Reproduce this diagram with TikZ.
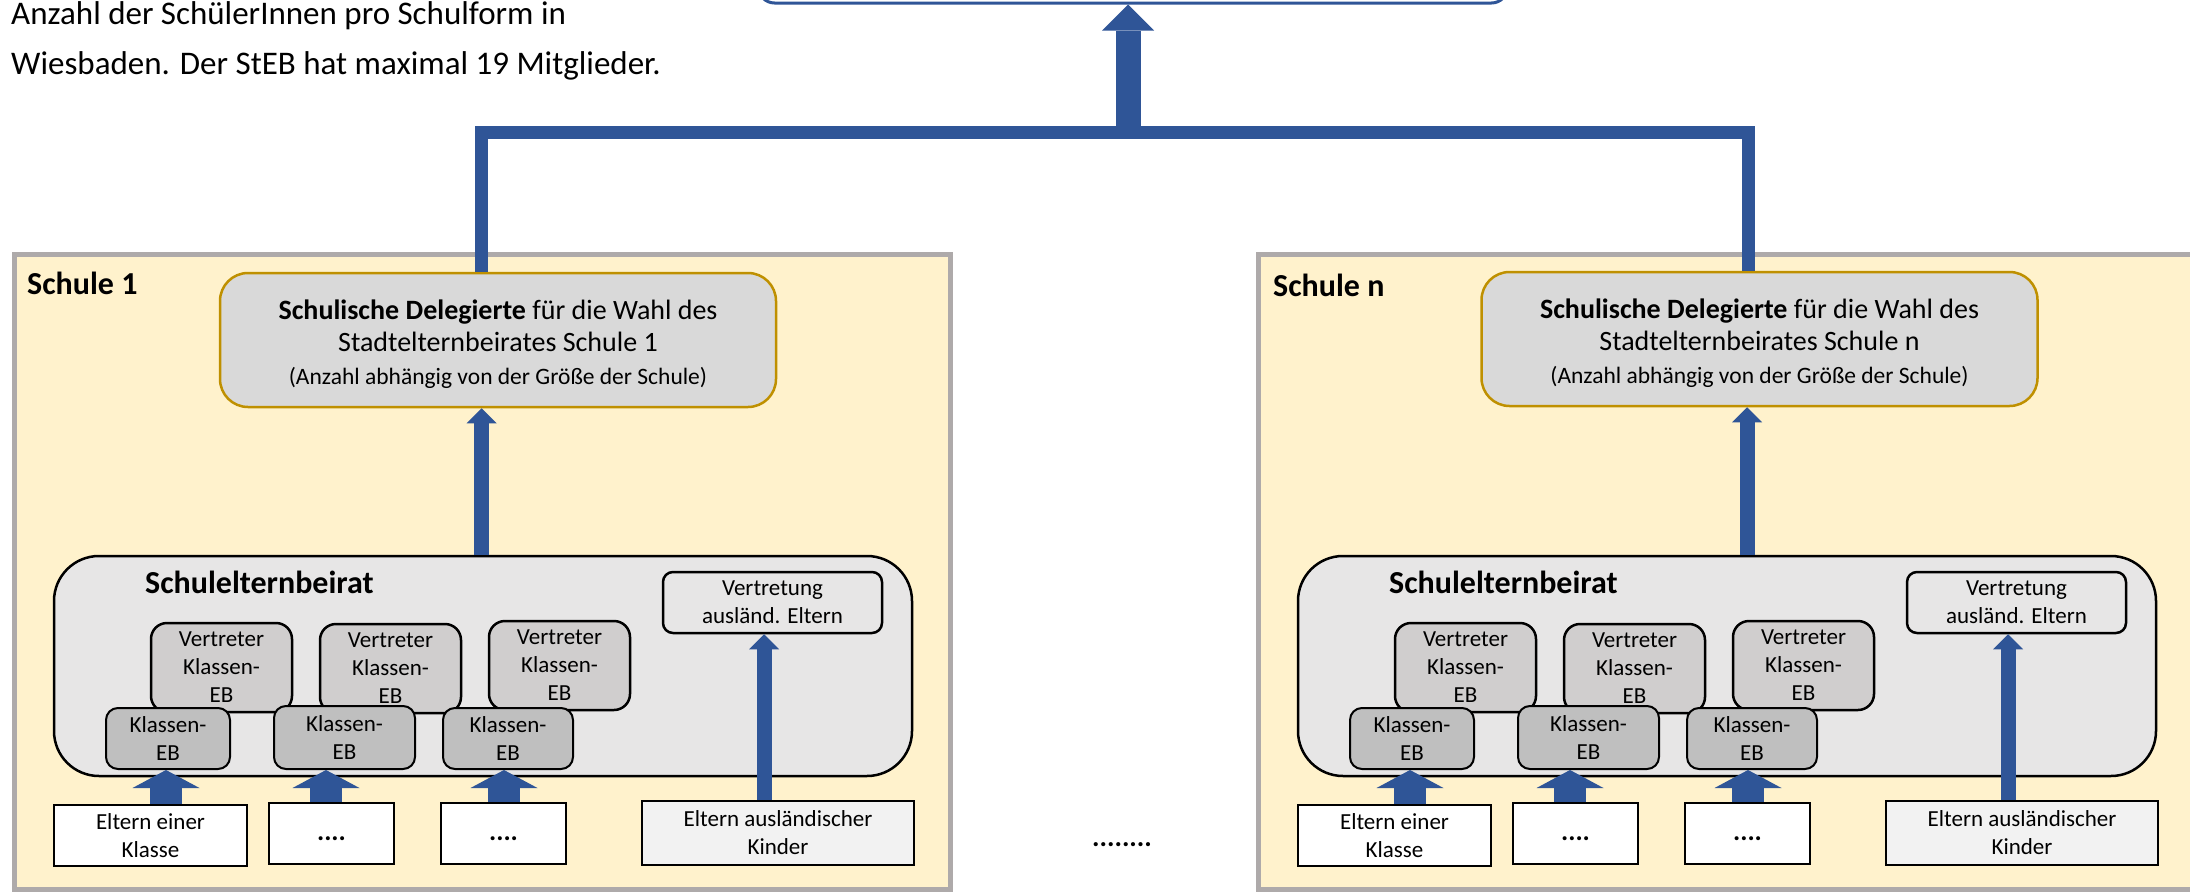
\documentclass[tikz,border=0pt]{standalone}
\usepackage{fontspec}
\setmainfont{Carlito}
\usetikzlibrary{arrows.meta}
\definecolor{cblue}{HTML}{2F5597}
\definecolor{cschoolbd}{HTML}{AEAAAA}
\definecolor{cschoolbg}{HTML}{FFF2CC}
\definecolor{cdelegbd}{HTML}{BF9000}
\definecolor{cdelegbg}{HTML}{D9D9D9}
\definecolor{csebbg}{HTML}{E7E6E6}
\definecolor{crepbg}{HTML}{D0CECE}
\definecolor{ckebbg}{HTML}{BFBFBF}
\definecolor{cforbg}{HTML}{F2F2F2}
\newcommand\fsbody{\fontsize{23}{28}\selectfont}
\newcommand\fsbig{\fontsize{32}{39}\selectfont}
\newcommand\fshead{\fontsize{33}{50}\selectfont}
\newcommand\fsdeleg{\fontsize{28}{32.5}\selectfont}
\newcommand\fssmall{\fontsize{23.5}{31}\selectfont}
\newcommand\fsdots{\fontsize{27}{33}\selectfont\bfseries}
\begin{document}
\begin{tikzpicture}[x=1pt,y=-1pt,line join=miter,
  school/.style={draw=cschoolbd,fill=cschoolbg,line width=5pt,minimum width=936pt,minimum height=635pt,inner sep=0pt},
  lab/.style={anchor=west,inner sep=0pt,font=\fsbig\bfseries},
  deleg/.style={draw=cdelegbd,fill=cdelegbg,line width=2.5pt,rounded corners=28pt,minimum width=556pt,minimum height=134pt,inner sep=0pt},
  delegtext/.style={inner sep=0pt,align=center,font=\fsdeleg},
  seb/.style={draw=black,fill=csebbg,line width=2.5pt,rounded corners=45pt,minimum width=858pt,minimum height=220pt,inner sep=0pt},
  sebtitle/.style={anchor=west,inner sep=0pt,font=\fsbig\bfseries},
  vertr/.style={draw=black,fill=csebbg,line width=2.5pt,rounded corners=10pt,minimum width=219pt,minimum height=61pt,inner sep=0pt,align=center,font=\fsbody},
  rep/.style={draw=black,fill=crepbg,line width=2.5pt,rounded corners=16pt,minimum width=141pt,minimum height=89pt,inner sep=0pt,align=center,font=\fsbody},
  keb/.style={draw=black,fill=ckebbg,line width=2pt,rounded corners=12pt,minimum height=61pt,inner sep=0pt,align=center,font=\fsbody},
  parent/.style={draw=black,fill=white,line width=2.5pt,minimum height=61pt,inner sep=0pt,align=center,font=\fsbody},
  topbox/.style={draw=cblue,fill=white,line width=3pt,rounded corners=16pt,minimum width=749pt,minimum height=60pt,inner sep=0pt},
  conn/.style={draw=cblue,line width=13pt},
  bigarrow/.style={draw=cblue,line width=25pt,-{Triangle[width=52pt,length=26pt,line width=0pt]}},
  midarrow/.style={draw=cblue,line width=15pt,-{Triangle[width=30pt,length=15pt,line width=0pt]}},
  fatarrow/.style={draw=cblue,line width=32pt,-{Triangle[width=67pt,length=18pt,line width=0pt]}}
]
\useasboundingbox (0,0) rectangle (2190,894);

% header
\node[anchor=north west,inner sep=0pt,align=left,font=\fshead] (head) at (11,1)
  {Anzahl der SchülerInnen pro Schulform in\\Wiesbaden. Der StEB hat maximal 19 Mitglieder.};
\node[topbox] (top) at (1133,-27) {};

% schools
\node[school] (sL) at (482.5,572) {};
\node[school] (sR) at (1726.5,572) {};
\node[lab] (labL) at (27,283) {Schule 1};
\node[lab] (labR) at (1273,285) {Schule n};

% delegates
\node[deleg] (dL) at (498,340) {};
\node[delegtext] (dLt) at (498,344) {\textbf{Schulische Delegierte} für die Wahl des\\Stadtelternbeirates Schule 1\\{\fssmall (Anzahl abhängig von der Größe der Schule)}};
\node[deleg] (dR) at (1759.5,339) {};
\node[delegtext] (dRt) at (1759.5,343) {\textbf{Schulische Delegierte} für die Wahl des\\Stadtelternbeirates Schule n\\{\fssmall (Anzahl abhängig von der Größe der Schule)}};

% left Schulelternbeirat
\node[seb] (seL) at (483,666) {};
\node[sebtitle] (seLt) at (145,582) {Schulelternbeirat};
\node[vertr] (vL) at (772.5,602.5) {Vertretung\\ausländ. Eltern};
\node[rep] (rAL) at (221.5,667.5) {Vertreter\\Klassen-\\EB};
\node[rep] (rBL) at (390.5,668.5) {Vertreter\\Klassen-\\EB};
\node[rep] (rCL) at (559.5,665.5) {Vertreter\\Klassen-\\EB};
\node[keb,minimum width=124pt] (kAL) at (168,738.5) {Klassen-\\EB};
\node[keb,minimum width=141pt,minimum height=63pt] (kBL) at (344.5,737.5) {Klassen-\\EB};
\node[keb,minimum width=130pt] (kCL) at (508,738.5) {Klassen-\\EB};
\node[parent,minimum width=193pt] (eAL) at (150.5,835.5) {Eltern einer\\Klasse};
\node[parent,minimum width=125pt,font=\fsdots] (eBL) at (331.5,833.5) {....\strut};
\node[parent,minimum width=125pt,font=\fsdots] (eCL) at (503.5,833.5) {....\strut};
\node[parent,fill=cforbg,minimum width=272pt,minimum height=64pt] (eDL) at (778,833) {Eltern ausländischer\\Kinder};

% right Schulelternbeirat
\node[seb] (seR) at (1727,666) {};
\node[sebtitle] (seRt) at (1389,582) {Schulelternbeirat};
\node[vertr] (vR) at (2016.5,602.5) {Vertretung\\ausländ. Eltern};
\node[rep] (rAR) at (1465.5,667.5) {Vertreter\\Klassen-\\EB};
\node[rep] (rBR) at (1634.5,668.5) {Vertreter\\Klassen-\\EB};
\node[rep] (rCR) at (1803.5,665.5) {Vertreter\\Klassen-\\EB};
\node[keb,minimum width=124pt] (kAR) at (1412,738.5) {Klassen-\\EB};
\node[keb,minimum width=141pt,minimum height=63pt] (kBR) at (1588.5,737.5) {Klassen-\\EB};
\node[keb,minimum width=130pt] (kCR) at (1752,738.5) {Klassen-\\EB};
\node[parent,minimum width=193pt] (eAR) at (1394.5,835.5) {Eltern einer\\Klasse};
\node[parent,minimum width=125pt,font=\fsdots] (eBR) at (1575.5,833.5) {....\strut};
\node[parent,minimum width=125pt,font=\fsdots] (eCR) at (1747.5,833.5) {....\strut};
\node[parent,fill=cforbg,minimum width=272pt,minimum height=64pt] (eDR) at (2022,833) {Eltern ausländischer\\Kinder};

% gap dots
\node[inner sep=0pt,font=\fontsize{28}{34}\selectfont\bfseries] (gap) at (1122,845) {........};

% arrow anchor coordinates
\coordinate (hub) at (1128,132);
\coordinate (uL) at ([xshift=-16.5pt]dL.south);
\coordinate (uR) at ([xshift=-12.5pt]dR.south);
\coordinate (a1L) at ([xshift=-2pt]kAL.south);
\coordinate (a2L) at ([xshift=-18.5pt]kBL.south);
\coordinate (a3L) at ([xshift=-4pt]kCL.south);
\coordinate (a4L) at ([xshift=-8.5pt]vL.south);
\coordinate (a1R) at ([xshift=-2pt]kAR.south);
\coordinate (a2R) at ([xshift=-18.5pt]kBR.south);
\coordinate (a3R) at ([xshift=-4pt]kCR.south);
\coordinate (a4R) at ([xshift=-8.5pt]vR.south);

% connectors
\draw[conn] ([xshift=-16.5pt]dL.north) |- (hub) -| ([xshift=-11.5pt]dR.north);
\draw[bigarrow] (hub) -- (hub |- top.south);
\draw[midarrow] (uL |- seL.north) -- (uL);
\draw[midarrow] (uR |- seR.north) -- (uR);
\draw[fatarrow] (a1L |- eAL.north) -- (a1L);
\draw[fatarrow] (a2L |- eBL.north) -- (a2L);
\draw[fatarrow] (a3L |- eCL.north) -- (a3L);
\draw[midarrow] (a4L |- eDL.north) -- (a4L);
\draw[fatarrow] (a1R |- eAR.north) -- (a1R);
\draw[fatarrow] (a2R |- eBR.north) -- (a2R);
\draw[fatarrow] (a3R |- eCR.north) -- (a3R);
\draw[midarrow] (a4R |- eDR.north) -- (a4R);
\end{tikzpicture}
\end{document}
